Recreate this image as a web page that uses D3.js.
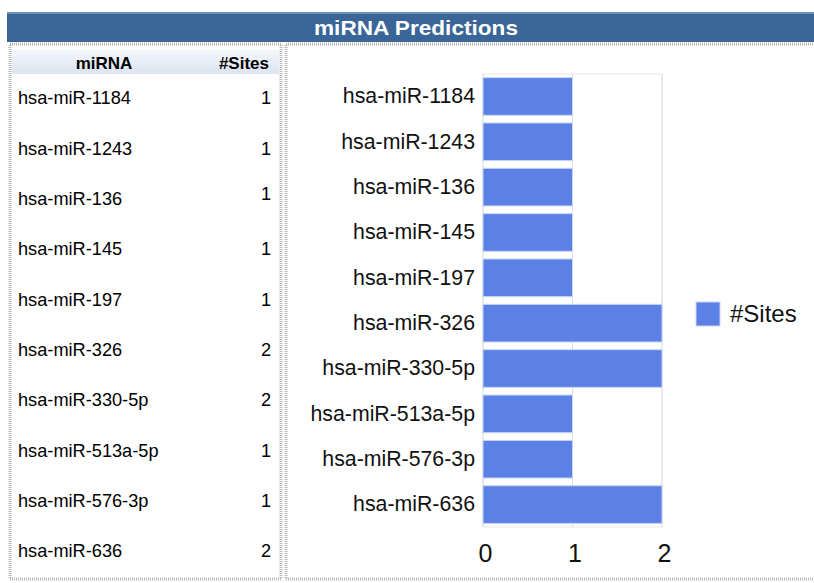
<!DOCTYPE html>
<html>
<head>
<meta charset="utf-8">
<script src="https://cdn.jsdelivr.net/npm/d3@7"></script>
<style>
  body { margin: 0; background: #fff; }
  svg { font-family: "Liberation Sans", Arial, sans-serif; display: block; }
</style>
</head>
<body>
<div id="chart"></div>
<script>

const mirnas = ["hsa-miR-1184", "hsa-miR-1243", "hsa-miR-136", "hsa-miR-145", "hsa-miR-197",
                "hsa-miR-326", "hsa-miR-330-5p", "hsa-miR-513a-5p", "hsa-miR-576-3p", "hsa-miR-636"];
const sites = [1, 1, 1, 1, 1, 2, 2, 1, 1, 2];
const xTicks = [0, 1, 2];
const title = "miRNA Predictions";
const seriesName = "#Sites";

var width = 814;
var height = 583;

var svg = d3.select("#chart")
  .append("svg")
    .attr("width", width)
    .attr("height", height)

var defs = svg.append("defs")
var grad = defs.append("linearGradient").attr("id", "hdr").attr("x1", 0).attr("y1", 0).attr("x2", 0).attr("y2", 1)
grad.append("stop").attr("offset", "0%").attr("stop-color", "#f4f6fb")
grad.append("stop").attr("offset", "100%").attr("stop-color", "#dde4f0")

// title bar
svg.append("rect")
    .attr("x", 7).attr("y", 12)
    .attr("width", width - 7).attr("height", 30)
    .attr("fill", "#3a6597")
svg.append("rect")
    .attr("x", 7).attr("y", 12)
    .attr("width", width - 7).attr("height", 2)
    .attr("fill", "#6f92bd")
svg.append("text")
    .attr("x", 416).attr("y", 35)
    .attr("text-anchor", "middle")
    .attr("fill", "#fff")
    .attr("font-weight", "bold")
    .attr("font-size", 21)
    .attr("textLength", 204)
    .attr("lengthAdjust", "spacingAndGlyphs")
    .text(title)

// panel borders (dotted look)
function panel(x, y, w, h) {
  svg.append("rect")
    .attr("x", x).attr("y", y).attr("width", w).attr("height", h)
    .attr("fill", "none")
    .attr("stroke", "#b8b8b8")
    .attr("stroke-width", 3)
    .attr("stroke-dasharray", "1,1")
}
panel(10, 44, 271, 535)
panel(286, 44, 530, 535)

// ---- left table ----
svg.append("rect")
    .attr("x", 12).attr("y", 50).attr("width", 267).attr("height", 24)
    .attr("fill", "url(#hdr)")
svg.append("text")
    .attr("x", 104).attr("y", 69)
    .attr("text-anchor", "middle")
    .attr("font-weight", "bold").attr("font-size", 17)
    .text("miRNA")
svg.append("text")
    .attr("x", 269).attr("y", 69)
    .attr("text-anchor", "end")
    .attr("font-weight", "bold").attr("font-size", 17)
    .text(seriesName)

var rowY = d3.scaleLinear().domain([0, mirnas.length - 1]).range([98, 551])

var rows = svg.append("g").selectAll("g")
  .data(mirnas.map((m, i) => [m, sites[i]]))
  .join("g")
    .attr("transform", (d, i) => `translate(0,${rowY(i)})`)
rows.append("text")
    .attr("x", 18).attr("dy", "0.35em")
    .attr("font-size", 18.2)
    .text(d => d[0])
rows.append("text")
    .attr("x", 271).attr("dy", (d, i) => i == 2 ? "0.05em" : "0.35em")
    .attr("text-anchor", "end")
    .attr("font-size", 18.2)
    .text(d => d[1])

// ---- bar chart ----
var xScale = d3.scaleLinear()
  .domain([0, 2])
  .range([483, 662])

var yScale = d3.scaleBand()
  .domain(mirnas)
  .range([74, 527])
  .paddingInner(0.17)
  .paddingOuter(0.08)

var plot = svg.append("g")

plot.append("rect")
    .attr("x", xScale(0)).attr("y", 74)
    .attr("width", xScale(2) - xScale(0)).attr("height", 453)
    .attr("fill", "none")
    .attr("stroke", "#e6e6e6")

plot.append("g").selectAll("line")
  .data(xTicks)
  .join("line")
    .attr("x1", d => xScale(d)).attr("x2", d => xScale(d))
    .attr("y1", 74).attr("y2", 527)
    .attr("stroke", "#e0e0e0")

plot.append("g").selectAll("rect")
  .data(mirnas.map((m, i) => [m, sites[i]]))
  .join("rect")
    .attr("x", xScale(0))
    .attr("y", d => yScale(d[0]))
    .attr("width", d => xScale(d[1]) - xScale(0))
    .attr("height", yScale.bandwidth())
    .attr("fill", "#5b80e6")
    .attr("stroke", "#c9d5f5")
    .attr("stroke-width", 1)

var xAxis = svg.append("g")
    .attr("transform", "translate(2,527)")
    .call(d3.axisBottom(xScale).tickValues(xTicks).tickFormat(d3.format("d")).tickSize(0).tickPadding(17))
xAxis.select(".domain").remove()
xAxis.selectAll("text")
    .attr("font-size", 25)
    .attr("font-family", "Liberation Sans, Arial, sans-serif")
    .attr("fill", "#111")

var yAxis = svg.append("g")
    .attr("transform", `translate(${xScale(0)},0)`)
    .call(d3.axisLeft(yScale).tickSize(0).tickPadding(8))
yAxis.select(".domain").remove()
yAxis.selectAll("text")
    .attr("font-size", 21.3)
    .attr("font-family", "Liberation Sans, Arial, sans-serif")
    .attr("fill", "#111")

// legend
var legend = svg.append("g").attr("transform", "translate(696,302)")
legend.append("rect")
    .attr("width", 24).attr("height", 24)
    .attr("fill", "#5b80e6")
    .attr("stroke", "#c9d5f5")
legend.append("text")
    .attr("x", 34).attr("y", 12).attr("dy", "0.35em")
    .attr("font-size", 24)
    .attr("fill", "#111")
    .text(seriesName)

</script>
</body>
</html>
